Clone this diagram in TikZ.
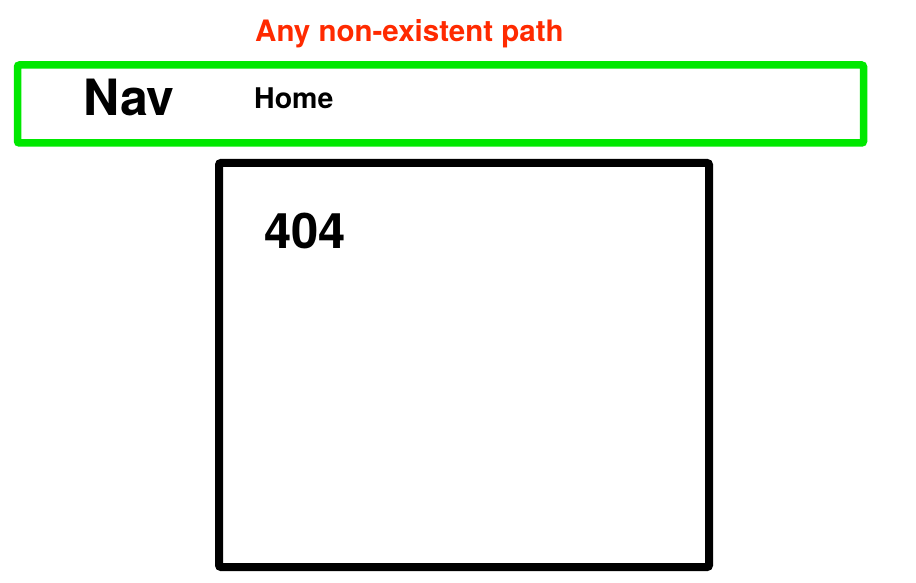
\documentclass[tikz,border=0pt]{standalone}
\usepackage{fontspec}
\setmainfont{TeX Gyre Heros}
\definecolor{navgreen}{RGB}{0,232,0}
\definecolor{alertred}{RGB}{255,42,0}
\tikzset{
  lbl/.style={anchor=base west, inner sep=0pt, font=\bfseries},
  frame/.style={line width=7.5pt, rounded corners=2pt},
}
\begin{document}
\begin{tikzpicture}[x=1pt,y=-1pt]
\useasboundingbox[fill=white] (0,0) rectangle (916,583);
\draw[frame, draw=navgreen] (17.5,65) rectangle (863.5,143);
\draw[frame, draw=black, line width=8pt] (219,163) rectangle (709,567);
\node[lbl, text=alertred, font=\bfseries\fontsize{29.5}{34}\selectfont] (title) at (255,42) {Any non-existent path};
\node[lbl, font=\bfseries\fontsize{50}{58}\selectfont] (nav) at (83,116) {Nav};
\node[lbl, font=\bfseries\fontsize{28.5}{34}\selectfont] (home) at (254,109) {Home};
\node[lbl, font=\bfseries\fontsize{49}{56}\selectfont] (nf) at (264,248) {404};
\end{tikzpicture}
\end{document}
